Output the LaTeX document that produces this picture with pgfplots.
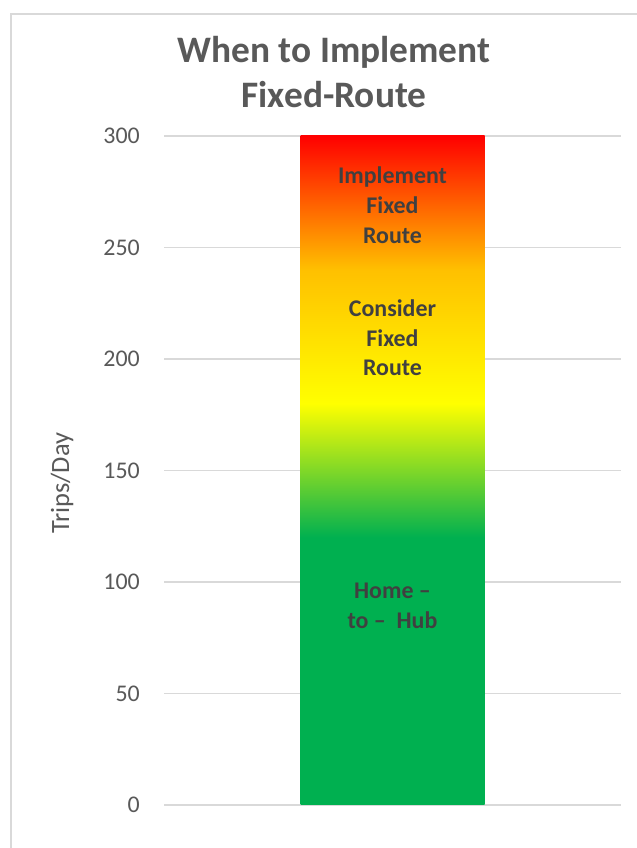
\documentclass[border=0pt]{standalone}
\usepackage{pgfplots}
\pgfplotsset{compat=1.18}
\usepackage{fontspec}
\setmainfont{Carlito}
\definecolor{bgreen}{HTML}{00B050}
\definecolor{byellow}{HTML}{FFFF00}
\definecolor{borange}{HTML}{FFC000}
\definecolor{bred}{HTML}{FF0000}
\definecolor{gridgray}{HTML}{D9D9D9}
\definecolor{txtgray}{HTML}{595959}
\definecolor{lblgray}{HTML}{404040}
\pgfdeclareverticalshading{barshade}{100bp}{color(0bp)=(bgreen); color(25bp)=(bgreen); color(45bp)=(bgreen); color(55bp)=(byellow); color(65bp)=(borange); color(75bp)=(bred); color(100bp)=(bred)}
\begin{document}
\begin{tikzpicture}
\path[use as bounding box, fill=white] (0,0) rectangle (637bp,848bp);
\draw[gridgray, line width=1.5bp] (11bp,-5bp) -- (11bp,834bp) -- (650bp,834bp);
\node[anchor=base, text=txtgray, font=\fontsize{37.5}{45}\selectfont\bfseries] at (334bp,785bp) {When to Implement};
\node[anchor=base, text=txtgray, font=\fontsize{37.5}{45}\selectfont\bfseries] at (334bp,740bp) {Fixed-Route};
\begin{axis}[
  at={(164bp,43bp)}, anchor=south west,
  scale only axis, width=457bp, height=669bp,
  xmin=0, xmax=1, ymin=0, ymax=300,
  enlargelimits=false, clip=false,
  ybar, bar width=184bp,
  xtick=\empty,
  ytick={0,50,100,150,200,250,300},
  ymajorgrids,
  major grid style={gridgray, line width=1.5bp},
  axis line style={draw=none},
  tick style={draw=none},
  /pgf/number format/assume math mode=true,
  yticklabel style={font=\fontsize{24}{29}\selectfont, text=txtgray, inner sep=0pt, xshift=-24bp},
  ylabel={Trips/Day},
  every axis y label/.style={at={(axis description cs:-0.223,0.481)}, rotate=90, anchor=center, font=\fontsize{26.5}{32}\selectfont, text=txtgray},
]
\addplot[draw=none, shade, shading=barshade] coordinates {(0.5,300)};
\node[align=center, text=lblgray, font=\fontsize{24}{30}\selectfont\bfseries] at (axis cs:0.5,269) {Implement\\Fixed\\Route};
\node[align=center, text=lblgray, font=\fontsize{24}{30}\selectfont\bfseries] at (axis cs:0.5,209.5) {Consider\\Fixed\\Route};
\node[align=center, text=lblgray, font=\fontsize{24}{30}\selectfont\bfseries] at (axis cs:0.5,89.5) {Home –\\to –~ Hub};
\end{axis}
\end{tikzpicture}
\end{document}
